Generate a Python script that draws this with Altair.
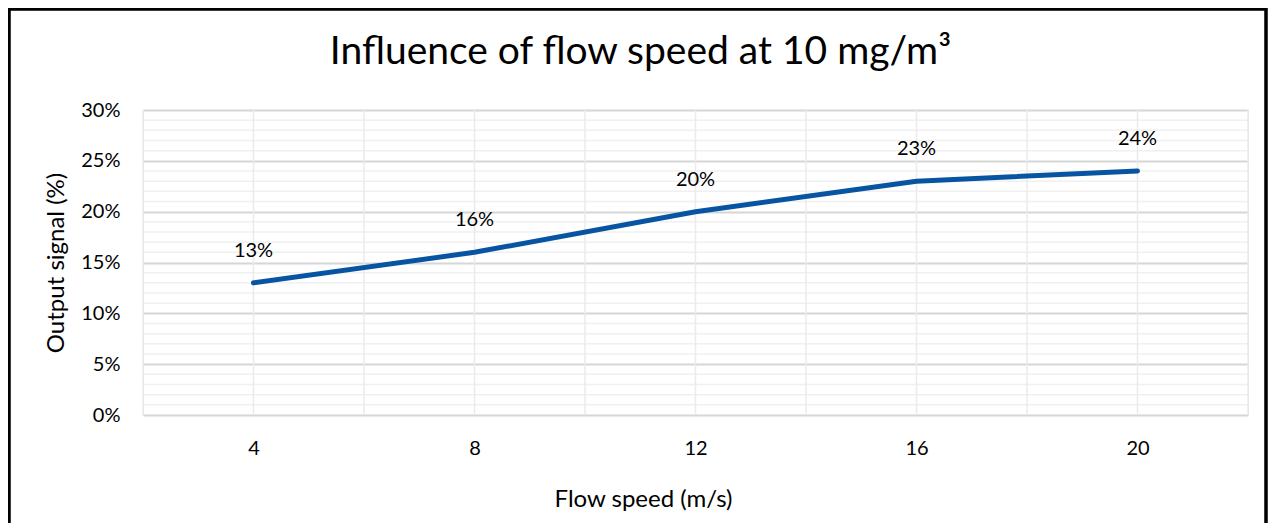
import altair as alt
import pandas as pd

# Data
flow_speed = [4, 8, 12, 16, 20]
output_signal = [0.13, 0.16, 0.20, 0.23, 0.24]
x_tick_values = [4, 8, 12, 16, 20]
y_tick_values = [0.0, 0.05, 0.10, 0.15, 0.20, 0.25, 0.30]
minor_y_grid = [v / 100 for v in range(1, 30) if v % 5 != 0]
x_grid = [2, 4, 6, 8, 10, 12, 14, 16, 18, 20, 22]

FONT = "Lato"
W, H = 1105, 305

df = pd.DataFrame({"speed": flow_speed, "signal": output_signal})
minor_df = pd.DataFrame({"y": minor_y_grid})
xgrid_df = pd.DataFrame({"x": x_grid})

x_scale = alt.Scale(domain=[2, 22], nice=False, zero=False)
y_scale = alt.Scale(domain=[0, 0.30], nice=False)

minor = alt.Chart(minor_df).mark_rule(color="#F0F0F0", strokeWidth=1.5).encode(
    y=alt.Y("y:Q", scale=y_scale)
)
vgrid = alt.Chart(xgrid_df).mark_rule(color="#EBEBEB", strokeWidth=1.5).encode(
    x=alt.X("x:Q", scale=x_scale)
)

base = alt.Chart(df).encode(
    x=alt.X(
        "speed:Q",
        scale=x_scale,
        axis=alt.Axis(
            title="Flow speed (m/s)",
            values=x_tick_values,
            grid=False,
            domain=False,
            ticks=False,
            labelPadding=23,
            labelFontSize=20,
            labelFont=FONT,
            labelColor="#000000",
            titleFont=FONT,
            titleFontSize=24,
            titleFontWeight="normal",
            titleColor="#000000",
            titleX=500,
            titleY=84,
            titleBaseline="middle",
            titleAlign="center",
        ),
    ),
    y=alt.Y(
        "signal:Q",
        scale=y_scale,
        axis=alt.Axis(
            title="Output signal (%)",
            values=y_tick_values,
            format=".0%",
            grid=True,
            gridColor="#D6D6D6",
            gridWidth=1.8,
            domain=False,
            ticks=False,
            labelPadding=23,
            labelFontSize=20,
            labelFont=FONT,
            labelColor="#000000",
            titleFont=FONT,
            titleFontSize=24,
            titleFontWeight="normal",
            titleColor="#000000",
            titleAngle=-90,
            titleX=-87,
            titleY=152.5,
            titleBaseline="middle",
            titleAlign="center",
        ),
    ),
)

line = base.mark_line(color="#0755A2", strokeWidth=5, strokeCap="round", strokeJoin="round")
labels = base.mark_text(
    dy=-32, baseline="middle", align="center", fontSize=20, font=FONT, color="#000000"
).encode(text=alt.Text("signal:Q", format=".0%"))

frame = alt.Chart(df).mark_rect(
    fill=None, stroke="#000000", strokeWidth=2.5
).encode(
    x=alt.value(-134), x2=alt.value(1123), y=alt.value(-101), y2=alt.value(420)
)

chart = (
    alt.layer(minor, vgrid, line, labels, frame)
    .properties(
        width=W,
        height=H,
        title=alt.TitleParams(
            text="Influence of flow speed at 10 mg/m³",
            font=FONT,
            fontSize=39,
            fontWeight="normal",
            color="#000000",
            anchor="middle",
            frame="group",
            baseline="alphabetic",
            dx=-55,
            offset=-95,
        ),
        padding={"left": 135, "top": 102, "right": 20, "bottom": 108},
        autosize=alt.AutoSizeParams(type="none"),
    )
    .configure_view(stroke=None)
    .configure(background="white")
)

chart.save("out.html", embed_options={"renderer": "svg", "actions": False})
